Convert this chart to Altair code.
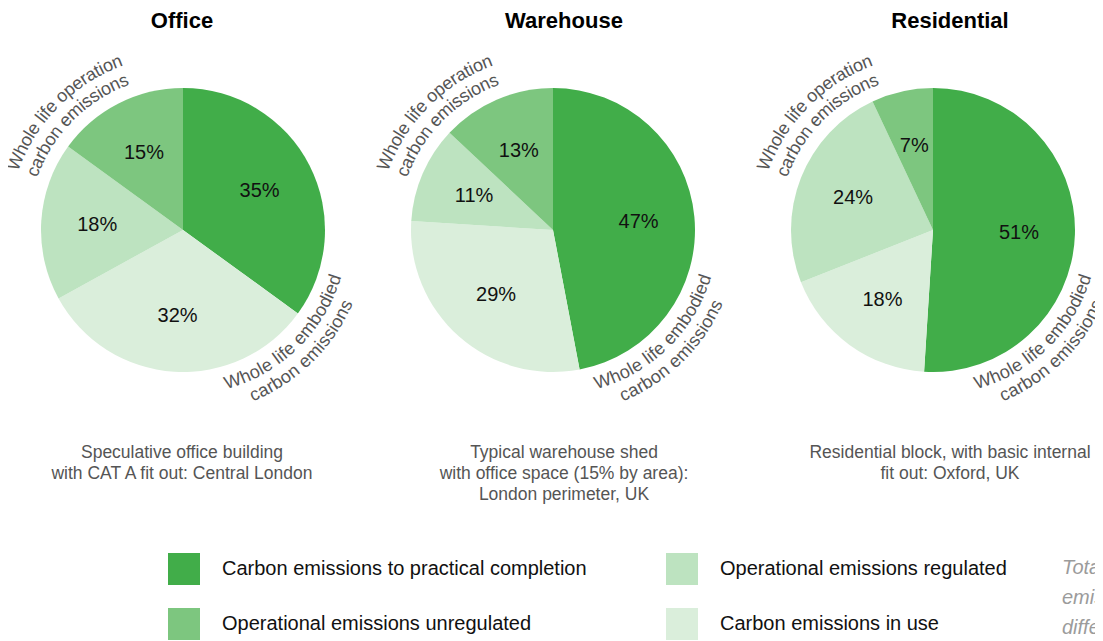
import math
import altair as alt
import pandas as pd

# ---------------- data ----------------
buildings = ["Office", "Warehouse", "Residential"]
slice_categories = [
    "Carbon emissions to practical completion",
    "Carbon emissions in use",
    "Operational emissions regulated",
    "Operational emissions unregulated",
]
office_values = [35, 32, 18, 15]
warehouse_values = [47, 29, 11, 13]
residential_values = [51, 18, 24, 7]

# legend entries flow down each column: col 1 then col 2
legend_order = [
    "Carbon emissions to practical completion",
    "Operational emissions unregulated",
    "Operational emissions regulated",
    "Carbon emissions in use",
]
legend_colors = ["#41ad49", "#7dc67f", "#bde3c0", "#daeedb"]

subtitles = [
    ["Speculative office building", "with CAT A fit out: Central London"],
    ["Typical warehouse shed", "with office space (15% by area):", "London perimeter, UK"],
    ["Residential block, with basic internal", "fit out: Oxford, UK"],
]
operation_label = ["Whole life operation", "carbon emissions"]
embodied_label = ["Whole life embodied", "carbon emissions"]
side_note = ["Total", "emissions", "different"]

# ---------------- layout / style ----------------
W, H = 1087, 633
FONT = "Liberation Sans"
pie_cx = [175, 545, 925]
pie_cy = 222
title_cx = [174, 556, 942]
R_OUT = 142
LABEL_FS = 18

# Arial-like advance widths (per 1000 em) for laying glyphs along an arc
CW = {" ": 278, "W": 944, "h": 556, "o": 556, "l": 222, "e": 556, "i": 222,
      "f": 278, "p": 556, "r": 333, "a": 556, "t": 278, "n": 556, "c": 500,
      "b": 556, "m": 833, "s": 500, "d": 556}


def arc_chars(lines, center_deg, radii, clockwise, fs):
    rows = []
    c = math.radians(center_deg)
    for line, R in zip(lines, radii):
        widths = [CW.get(ch, 556) * fs / 1000.0 for ch in line]
        L = sum(widths)
        start = c - L / (2 * R) if clockwise else c + L / (2 * R)
        cum = 0.0
        for ch, w in zip(line, widths):
            off = (cum + w / 2) / R
            th = start + off if clockwise else start - off
            ang = math.degrees(th) if clockwise else math.degrees(th) - 180
            cum += w
            if ch == " ":
                continue
            rows.append(dict(ch=ch, th=th % (2 * math.pi), r=R, ang=ang % 360))
    return rows


curve_rows = arc_chars(operation_label, -45.2, [180, 160], True, LABEL_FS) + \
    arc_chars(embodied_label, 135.6, [160, 180], False, LABEL_FS)
curve_df = pd.DataFrame(curve_rows)

color_scale = alt.Scale(domain=legend_order, range=legend_colors)
legend = alt.Legend(
    orient="none", legendX=160, legendY=545, columns=2, title=None,
    symbolType="square", symbolSize=1024, symbolStrokeWidth=0, symbolOpacity=1,
    labelFontSize=20, labelFont=FONT, labelColor="#111111", labelOffset=22,
    labelLimit=600, rowPadding=23, columnPadding=79, padding=0,
)

layers = []
for i, (name, vals) in enumerate(zip(buildings, [office_values, warehouse_values, residential_values])):
    df = pd.DataFrame({
        "category": slice_categories,
        "value": vals,
        "order": list(range(len(vals))),
        "label": [f"{v}%" for v in vals],
    })
    base = alt.Chart(df).encode(
        theta=alt.Theta("value:Q", stack=True),
        order=alt.Order("order:Q"),
        x=alt.value(pie_cx[i]),
        y=alt.value(pie_cy),
    )
    arcs = base.mark_arc(outerRadius=R_OUT).encode(
        color=alt.Color("category:N", scale=color_scale, legend=legend)
    )
    pct = base.mark_text(radius=86, fontSize=20, font=FONT, color="#111111").encode(
        text="label:N"
    )
    curved = alt.Chart(curve_df).mark_text(
        fontSize=LABEL_FS, font=FONT, color="#555555", align="center", baseline="middle"
    ).encode(
        theta=alt.Theta("th:Q", scale=None),
        radius=alt.Radius("r:Q", scale=None),
        angle=alt.Angle("ang:Q", scale=None),
        text="ch:N",
        x=alt.value(pie_cx[i]),
        y=alt.value(pie_cy),
    )
    title = alt.Chart(alt.Data(values=[{"t": name}])).mark_text(
        fontSize=22, fontWeight="bold", font=FONT, color="#000000", baseline="alphabetic"
    ).encode(text="t:N", x=alt.value(title_cx[i]), y=alt.value(20))
    sub = alt.Chart(alt.Data(values=[{}])).mark_text(
        text=subtitles[i], fontSize=17.5, font=FONT, color="#555555",
        baseline="alphabetic", lineHeight=21,
    ).encode(x=alt.value(title_cx[i]), y=alt.value(450))
    layers += [arcs, pct, curved, title, sub]

note = alt.Chart(alt.Data(values=[{}])).mark_text(
    text=side_note, fontSize=20, font=FONT, fontStyle="italic", color="#9b9b9b",
    align="left", baseline="alphabetic", lineHeight=30,
).encode(x=alt.value(1054), y=alt.value(566))
layers.append(note)

chart = alt.layer(*layers).resolve_scale(theta="independent").properties(
    width=W, height=H, padding=0, autosize=alt.AutoSizeParams(type="none"),
    background="white",
).configure_view(strokeWidth=0)

chart.save("out.html", embed_options={"renderer": "svg", "actions": False})
